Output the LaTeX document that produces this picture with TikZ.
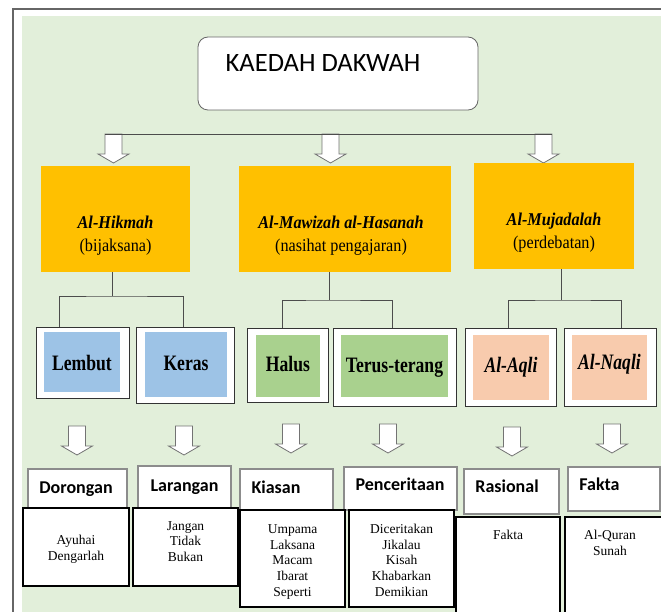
\documentclass[tikz,border=0pt]{standalone}
\usepackage{fontspec}
\setmainfont{Liberation Serif}
\newfontfamily\narrowserif{Liberation Serif}[FakeStretch=0.9]
\newfontfamily\tallserif{Liberation Serif}[FakeStretch=0.8]
\newfontfamily\calibri{Carlito}
\usetikzlibrary{calc}
\definecolor{panelgreen}{HTML}{E2EFDA}
\definecolor{methodyellow}{HTML}{FFC000}
\definecolor{softblue}{HTML}{9DC3E6}
\definecolor{softgreen}{HTML}{A9D18E}
\definecolor{softpeach}{HTML}{F8CBAD}
\tikzset{
  box/.style={inner sep=0pt, outer sep=0pt},
  titlebox/.style={box, draw=black!60, fill=white, rounded corners=10pt, line width=0.8pt},
  methodbox/.style={box, fill=methodyellow},
  framebox/.style={box, draw=black!80, fill=white, line width=0.9pt},
  catbox/.style={box, draw=black!45, fill=white, line width=1.2pt},
  wordbox/.style={box, draw=black, fill=white, line width=1.5pt},
  link/.style={draw=black!70, line width=0.8pt},
  hollow/.style={draw=black!55, fill=white, line width=0.8pt},
  downarrow/.pic={\path[hollow] (-8.5,0) -- (-8.5,20) -- (-15.5,20) -- (0,29) -- (15.5,20) -- (8.5,20) -- (8.5,0) -- cycle;},
  titletext/.style={anchor=base, font=\calibri\fontsize{26.5}{30}\selectfont},
  methodtext/.style={anchor=base, align=center, font=\narrowserif\fontsize{18}{23}\selectfont},
  leveltext/.style={anchor=base, font=\tallserif\bfseries\fontsize{22}{24}\selectfont},
  cattext/.style={anchor=base, font=\calibri\bfseries\fontsize{18}{20}\selectfont},
  wordtext/.style={anchor=base, align=center, font=\fontsize{13.5}{15.6}\selectfont}
}
\begin{document}
\begin{tikzpicture}[x=1pt, y=-1pt]
  \fill[white] (0,0) rectangle (661,612);
  \useasboundingbox (0,0) rectangle (661,612);
  % panel
  \fill[panelgreen] (22,16) rectangle (690,640);
  \draw[black!60, line width=1.5pt] (13,9) rectangle (690,640);

  % title
  \node[titlebox, minimum width=280pt, minimum height=73pt] (title) at (338,73.5) {};
  \node[titletext] (t-title) at (323,72) {KAEDAH DAKWAH};

  % three methods
  \pic at (113.5,134) {downarrow};
  \pic at (330.5,134) {downarrow};
  \pic at (543.5,134) {downarrow};
  \coordinate (split-l) at (105,134);
  \coordinate (split-r) at (552,134);
  \draw[link] (split-l) -- (split-r);

  \node[methodbox, minimum width=149pt, minimum height=106pt] (hikmah) at (115.5,219) {};
  \node[methodbox, minimum width=212pt, minimum height=106pt] (mawizah) at (345,219) {};
  \node[methodbox, minimum width=160pt, minimum height=106pt] (mujadalah) at (554,216) {};
  % base of a two-line text is its last line
  \node[methodtext] (t-hikmah) at (115.5,252) {\textbf{\textit{Al-Hikmah}}\\(bijaksana)};
  \node[methodtext] (t-mawizah) at (341,252) {\textbf{\textit{Al-Mawizah al-Hasanah}}\\(nasihat pengajaran)};
  \node[methodtext] (t-mujadalah) at (554,249) {\textbf{\textit{Al-Mujadalah}}\\(perdebatan)};

  % second level
  \node[framebox, minimum width=93pt, minimum height=71pt] (lembut) at (82.5,362.5) {};
  \node[framebox, minimum width=98pt, minimum height=76pt] (keras) at (185,365) {};
  \node[framebox, minimum width=81pt, minimum height=74pt] (halus) at (287.5,365) {};
  \node[framebox, minimum width=123pt, minimum height=78pt] (terus) at (394.5,367) {};
  \node[framebox, minimum width=91pt, minimum height=78pt] (aqli) at (510.5,367) {};
  \node[framebox, minimum width=92pt, minimum height=78pt] (naqli) at (610,367) {};
  \node[box, fill=softblue, minimum width=76pt, minimum height=60pt] (lembut-in) at (82,362) {};
  \node[box, fill=softblue, minimum width=82pt, minimum height=65pt] (keras-in) at (186,364.5) {};
  \node[box, fill=softgreen, minimum width=64pt, minimum height=62pt] (halus-in) at (288,366) {};
  \node[box, fill=softgreen, minimum width=107pt, minimum height=62pt] (terus-in) at (394.5,366) {};
  \node[box, fill=softpeach, minimum width=76pt, minimum height=65pt] (aqli-in) at (511,367.5) {};
  \node[box, fill=softpeach, minimum width=75pt, minimum height=65pt] (naqli-in) at (609.5,367.5) {};
  \node[leveltext] (t-lembut) at (82,370) {Lembut};
  \node[leveltext] (t-keras) at (186,370) {Keras};
  \node[leveltext] (t-halus) at (288,371.5) {Halus};
  \node[leveltext] (t-terus) at (394.5,372) {Terus-terang};
  \node[leveltext] (t-aqli) at (511,372) {\textit{Al-Aqli}};
  \node[leveltext] (t-naqli) at (609.5,369) {\textit{Al-Naqli}};

  % brackets
  \draw[link] ($(hikmah.south)+(-3.5,0)$) -- ++(0,24) coordinate (hk);
  \draw[link] ($(lembut.north west)+(23,0)$) |- (hk) -| ($(keras.north)+(-2,0)$);
  \draw[link] ($(mawizah.south)+(-16,0)$) -- ++(0,28) coordinate (mw);
  \draw[link] ($(halus.north)+(-5.5,0)$) |- (mw) -| ($(terus.north)+(-2.5,0)$);
  \draw[link] ($(mujadalah.south)+(7,0)$) -- ++(0,31) coordinate (mj);
  \draw[link] ($(aqli.north)+(-2.5,0)$) |- (mj) -| ($(naqli.north)+(11,0)$);

  % arrows to categories
  \pic at (77,426) {downarrow};
  \pic at (184,426) {downarrow};
  \pic at (291,424) {downarrow};
  \pic at (388,424) {downarrow};
  \pic at (512,427) {downarrow};
  \pic at (612,424) {downarrow};

  % categories
  \node[catbox, minimum width=99pt, minimum height=39pt] (dorongan) at (77.5,488.5) {};
  \node[catbox, minimum width=93pt, minimum height=42pt] (larangan) at (184.5,487) {};
  \node[catbox, minimum width=93pt, minimum height=41pt] (kiasan) at (286.5,489.5) {};
  \node[catbox, minimum width=113pt, minimum height=43pt] (penceritaan) at (400.5,488.5) {};
  \node[catbox, minimum width=95pt, minimum height=45pt] (rasional) at (511.5,491.5) {};
  \node[catbox, minimum width=92pt, minimum height=44pt] (fakta) at (614,489) {};
  \node[cattext] (t-dorongan) at (76,493) {Dorongan};
  \node[cattext] (t-larangan) at (184.5,491) {Larangan};
  \node[cattext] (t-kiasan) at (276,493) {Kiasan};
  \node[cattext] (t-penceritaan) at (400,490.5) {Penceritaan};
  \node[cattext] (t-rasional) at (507,492.5) {Rasional};
  \node[cattext] (t-fakta) at (599.5,490) {Fakta};

  % word lists
  \node[wordbox, minimum width=106pt, minimum height=78pt] (w-dorongan) at (76,547) {};
  \node[wordbox, minimum width=105pt, minimum height=78pt] (w-larangan) at (185.5,547) {};
  \node[wordbox, minimum width=105pt, minimum height=97pt] (w-kiasan) at (292.5,558.5) {};
  \node[wordbox, minimum width=105pt, minimum height=97pt] (w-penceritaan) at (401.5,558.5) {};
  \node[wordbox, minimum width=104pt, minimum height=103pt] (w-rasional) at (508,568.5) {};
  \node[wordbox, minimum width=105pt, minimum height=103pt] (w-fakta) at (617.5,568.5) {};
  \node[wordtext] (t-w-dorongan) at (76,560) {Ayuhai\\Dengarlah};
  \node[wordtext] (t-w-larangan) at (185.5,561.5) {Jangan\\Tidak\\Bukan};
  \node[wordtext] (t-w-kiasan) at (292.5,596) {Umpama\\Laksana\\Macam\\Ibarat\\Seperti};
  \node[wordtext] (t-w-penceritaan) at (401.5,596) {Diceritakan\\Jikalau\\Kisah\\Khabarkan\\Demikian};
  \node[wordtext] (t-w-rasional) at (508,539) {Fakta};
  \node[wordtext] (t-w-fakta) at (610,555) {Al-Quran\\Sunah};
\end{tikzpicture}
\end{document}
